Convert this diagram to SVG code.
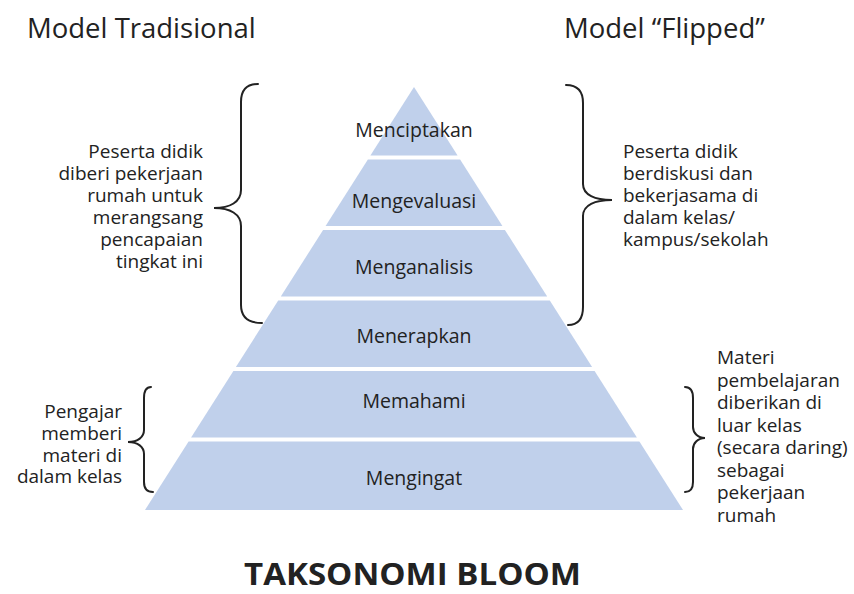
<svg xmlns="http://www.w3.org/2000/svg" width="854" height="594" viewBox="0 0 854 594">
<style>
  .layer { fill: #C0D0EB; }
  .lbl { font-family: "Open Sans", "Liberation Sans", sans-serif; font-size: 19.5px; fill: #222; text-anchor: middle; }
  .note { font-family: "Open Sans", "Liberation Sans", sans-serif; font-size: 19px; fill: #222; }
  .head { font-family: "Open Sans", "Liberation Sans", sans-serif; font-size: 27.5px; fill: #222; }
  .title { font-family: "Open Sans", "Liberation Sans", sans-serif; font-size: 30px; font-weight: bold; fill: #222; }
  .brace { fill: none; stroke: #222; stroke-width: 2; stroke-linecap: round; }
</style>
<rect width="854" height="594" fill="#fff"/>

<text class="head" x="27" y="38">Model Tradisional</text>
<text class="head" x="564" y="38">Model “Flipped”</text>

<g id="layer-menciptakan">
  <polygon class="layer" points="414,87 457.6,155.5 370.4,155.5"/>
  <text class="lbl" x="414" y="137">Menciptakan</text>
</g>
<g id="layer-mengevaluasi">
  <polygon class="layer" points="367.9,159.5 460.1,159.5 502.4,226 325.6,226"/>
  <text class="lbl" x="414" y="208">Mengevaluasi</text>
</g>
<g id="layer-menganalisis">
  <polygon class="layer" points="323.1,230 504.9,230 547.2,296.5 280.8,296.5"/>
  <text class="lbl" x="414" y="274">Menganalisis</text>
</g>
<g id="layer-menerapkan">
  <polygon class="layer" points="278.2,300.5 549.8,300.5 592.1,367 235.9,367"/>
  <text class="lbl" x="414" y="343">Menerapkan</text>
</g>
<g id="layer-memahami">
  <polygon class="layer" points="233.4,371 594.6,371 636.9,437.5 191.1,437.5"/>
  <text class="lbl" x="414" y="408">Memahami</text>
</g>
<g id="layer-mengingat">
  <polygon class="layer" points="188.6,441.5 639.4,441.5 683,510 145,510"/>
  <text class="lbl" x="414" y="485">Mengingat</text>
</g>

<g id="braces">
  <path class="brace" d="M 258 84 C 246 84, 241 90, 241 102 L 241 190 C 241 202, 230 208, 214 208 C 230 208, 241 214, 241 226 L 241 305 C 241 317, 248 323, 262 323"/>
  <path class="brace" d="M 566 85 C 578 85, 583 91, 583 103 L 583 184 C 583 195, 595 200, 612 200 C 595 200, 583 205, 583 216 L 583 307 C 583 319, 578 325, 568 325"/>
  <path class="brace" d="M 151 387 C 146 387, 144 391, 144 398 L 144 430 C 144 437, 138 442, 128 442 C 138 442, 144 447, 144 454 L 144 482 C 144 489, 147 492, 153 492"/>
  <path class="brace" d="M 685 387 C 690 387, 693 391, 693 398 L 693 427 C 693 433, 698 438, 705 438 C 698 438, 693 443, 693 449 L 693 482 C 693 489, 690 492, 685 492"/>
</g>

<g id="note-tradisional-atas">
  <text class="note" text-anchor="end"><tspan x="203" y="158">Peserta didik</tspan><tspan x="203" y="180">diberi pekerjaan</tspan><tspan x="203" y="202">rumah untuk</tspan><tspan x="203" y="224">merangsang</tspan><tspan x="203" y="246">pencapaian</tspan><tspan x="203" y="268">tingkat ini</tspan></text>
</g>
<g id="note-flipped-atas">
  <text class="note"><tspan x="623" y="158">Peserta didik</tspan><tspan x="623" y="180">berdiskusi dan</tspan><tspan x="623" y="202">bekerjasama di</tspan><tspan x="623" y="224">dalam kelas/</tspan><tspan x="623" y="246">kampus/sekolah</tspan></text>
</g>
<g id="note-tradisional-bawah">
  <text class="note" text-anchor="end"><tspan x="122" y="418">Pengajar</tspan><tspan x="122" y="440">memberi</tspan><tspan x="122" y="461.5">materi di</tspan><tspan x="122" y="483">dalam kelas</tspan></text>
</g>
<g id="note-flipped-bawah">
  <text class="note"><tspan x="717" y="364">Materi</tspan><tspan x="717" y="386.5">pembelajaran</tspan><tspan x="717" y="409">diberikan di</tspan><tspan x="717" y="431.5">luar kelas</tspan><tspan x="717" y="454">(secara daring)</tspan><tspan x="717" y="476.5">sebagai</tspan><tspan x="717" y="499">pekerjaan</tspan><tspan x="717" y="521.5">rumah</tspan></text>
</g>

<text class="title" x="244" y="585" textLength="337" lengthAdjust="spacingAndGlyphs">TAKSONOMI BLOOM</text>
</svg>
